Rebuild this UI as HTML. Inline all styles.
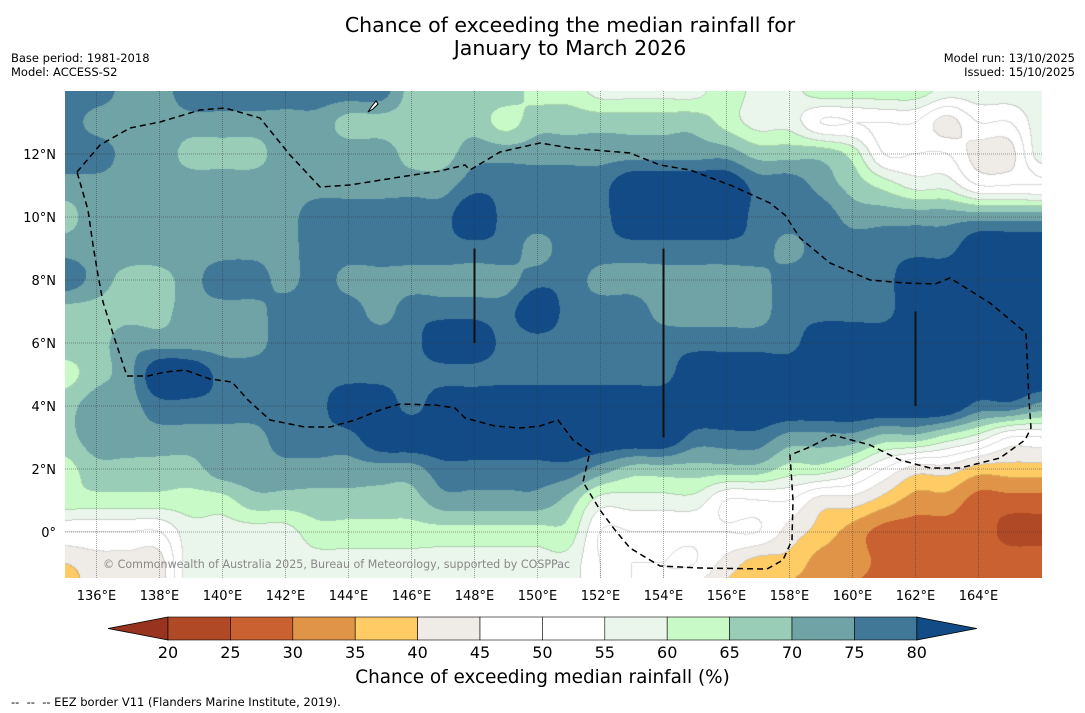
<!DOCTYPE html>
<html><head><meta charset="utf-8">
<style>
body{margin:0;background:#fff;width:1085px;height:713px;overflow:hidden;font-family:"DejaVu Sans","Liberation Sans",sans-serif;}
#wrap{position:relative;width:1085px;height:713px;}
.t{position:absolute;white-space:nowrap;color:#000;}
</style></head>
<body><div id="wrap">
<div class="t" style="left:0;width:1140px;top:14px;text-align:center;font-size:20.5px;line-height:23px;">Chance of exceeding the median rainfall for<br>January to March 2026</div>
<div class="t" style="left:11px;top:51px;font-size:11.5px;line-height:14px;">Base period: 1981-2018<br>Model: ACCESS-S2</div>
<div class="t" style="right:10px;top:51px;font-size:11.5px;line-height:14px;text-align:right;">Model run: 13/10/2025<br>Issued: 15/10/2025</div>
<canvas id="map" width="977" height="487" style="position:absolute;left:65px;top:91px;"></canvas>
<svg id="ov" width="1085" height="713" style="position:absolute;left:0;top:0;"></svg>
<div class="t" style="left:103px;top:558px;font-size:11.1px;color:#888;">© Commonwealth of Australia 2025, Bureau of Meteorology, supported by COSPPac</div>
<div class="t" style="left:0;width:1085px;top:667px;text-align:center;font-size:18.4px;">Chance of exceeding median rainfall (%)</div>
<div class="t" style="left:11px;top:695px;font-size:11.5px;">-- &nbsp;-- &nbsp;-- EEZ border V11 (Flanders Marine Institute, 2019).</div>
</div>
<script>
// 1-degree grid, lon 135..166, lat 14..-2 (% chance of exceeding median)
const lons=[135,136,137,138,139,140,141,142,143,144,145,146,147,148,149,150,151,152,153,154,155,156,157,158,159,160,161,162,163,164,165,166];
const lats=[14,13,12,11,10,9,8,7,6,5,4,3,2,1,0,-1,-2];
const r14=[78,78,73,73,78,78,78,78,78,78,78,68,68,68,68,63,63,58,58,58,58,63,58,58,63,63,63,63,58,58,58,58];
const r13=[78,73,73,73,73,73,73,73,73,68,68,68,68,68,63,68,68,68,68,68,68,63,58,58,50,50,50,50,43,50,50,58];
const r12=[78,78,73,73,68,68,68,73,73,73,73,68,68,73,73,73,73,73,73,73,73,73,68,68,68,63,50,50,50,43,43,58];
const r11=[73,73,73,73,73,73,73,73,73,73,73,73,73,78,78,78,78,78,85,85,85,85,78,78,73,68,63,58,58,50,50,50];
const r10=[68,73,73,73,73,73,73,73,78,78,78,78,78,85,78,78,78,78,85,85,85,85,78,78,78,73,73,73,73,73,73,73];
const r9 =[73,73,73,73,73,73,73,73,78,78,78,78,78,78,78,73,78,78,78,78,78,78,78,73,78,78,78,78,78,85,85,85];
const r8 =[78,73,68,68,73,78,78,73,78,73,73,73,73,73,73,78,78,73,73,73,73,73,73,78,78,78,78,85,85,85,85,85];
const r7 =[68,68,68,68,73,73,73,78,78,78,73,78,78,78,78,85,78,78,78,73,73,73,73,78,78,78,78,85,85,85,85,85];
const r6 =[68,68,73,73,73,73,73,78,78,78,78,78,85,85,78,78,78,78,78,78,78,78,78,78,85,85,85,85,85,85,85,85];
const r5 =[63,68,73,85,85,78,78,78,78,78,78,78,78,78,78,78,78,78,78,78,85,85,85,85,85,85,85,85,85,85,85,85];
const r4 =[68,73,73,78,78,78,78,78,78,85,85,78,85,85,85,85,85,85,85,85,85,85,85,85,85,85,85,85,85,78,78,73];
const r3 =[68,73,73,73,73,73,73,78,78,78,85,85,85,85,85,85,85,85,85,85,78,78,78,73,73,73,68,68,63,58,50,50];
const r2 =[63,68,68,68,68,73,73,73,73,73,73,73,78,78,78,78,78,73,68,68,68,68,68,63,63,58,50,43,43,38,38,38];
const r1 =[63,63,63,63,63,63,68,68,68,68,68,68,73,73,73,73,68,58,58,58,58,50,50,50,43,43,38,33,33,28,28,28];
const r0 =[50,50,50,50,58,58,58,58,63,63,63,63,63,63,63,63,63,50,50,50,50,50,50,43,38,33,28,28,28,28,23,23];
const rm1=[40,43,43,43,58,58,58,58,58,58,58,58,58,58,58,58,58,50,50,50,50,43,38,38,33,33,28,28,28,28,28,28];
const rm2=[36,43,43,43,58,58,58,58,58,58,58,58,58,58,58,58,58,50,50,50,43,38,38,33,33,28,28,28,28,28,23,23];
const rows=[r14,r13,r12,r11,r10,r9,r8,r7,r6,r5,r4,r3,r2,r1,r0,rm1,rm2];
const levels=[20,25,30,35,40,45,50,55,60,65,70,75,80];
const colors=["#98331f","#b04a26","#c96131","#e09448","#fecb65","#efebe6","#ffffff","#ffffff","#eaf5eb","#c8fac8","#9acdb8","#6fa3a6","#417898","#124b85"];
const xTicks=[136,138,140,142,144,146,148,150,152,154,156,158,160,162,164];
const yTicks=[12,10,8,6,4,2,0];

const PX=31.5, X0=65, Y0=91, LON0=135, LAT0=14;
const xs=lon=>X0+(lon-LON0)*PX, ys=lat=>Y0+(LAT0-lat)*PX;
function bin(v){let i=0;while(i<levels.length&&v>=levels[i])i++;return i;}
function hex(c){return[parseInt(c.substr(1,2),16),parseInt(c.substr(3,2),16),parseInt(c.substr(5,2),16)];}
const rgb=colors.map(hex);
function cr(p0,p1,p2,p3,t){return p1+0.5*t*(p2-p0+t*(2*p0-5*p1+4*p2-p3+t*(3*(p1-p2)+p3-p0)));}
function g(j,i){j=Math.max(0,Math.min(lats.length-1,j));i=Math.max(0,Math.min(lons.length-1,i));return rows[j][i];}
(function(){
 const cv=document.getElementById('map'),ctx=cv.getContext('2d');
 const W=cv.width,H=cv.height,img=ctx.createImageData(W,H);
 const B=new Int8Array(W*H);
 for(let py=0;py<H;py++){
  const fy=(py+0.5)/PX; const j=Math.floor(fy), ty=fy-j;
  for(let px=0;px<W;px++){
   const fx=(px+0.5)/PX; const i=Math.floor(fx), tx=fx-i;
   const c=[];
   for(let k=-1;k<=2;k++)c.push(cr(g(j+k,i-1),g(j+k,i),g(j+k,i+1),g(j+k,i+2),tx));
   const v=cr(c[0],c[1],c[2],c[3],ty);
   B[py*W+px]=bin(v);
  }
 }
 for(let p=0;p<W*H;p++){
  const col=rgb[B[p]]; const x=p%W;
  const edge=(x<W-1&&B[p+1]!==B[p])||(p+W<W*H&&B[p+W]!==B[p]);
  const k=p*4;
  const f=(edge&&B[p]>=4&&B[p]<=9)?0.85:1;
  img.data[k]=col[0]*f;img.data[k+1]=col[1]*f;img.data[k+2]=col[2]*f;img.data[k+3]=255;
 }
 ctx.putImageData(img,0,0);
})();
const NS="http://www.w3.org/2000/svg";
const ov=document.getElementById('ov');
function el(t,a,p){const e=document.createElementNS(NS,t);for(const k in a)e.setAttribute(k,a[k]);(p||ov).appendChild(e);return e;}
xTicks.forEach(v=>{
 const x=xs(v);
 const gl=el('line',{x1:x,x2:x,y1:91,y2:578,stroke:'#333','stroke-width':1,'stroke-dasharray':'1,1',opacity:0.45});
 
 
 const t=el('text',{x:x,y:600,'font-size':13,'text-anchor':'middle','font-family':'DejaVu Sans, sans-serif'});
 t.textContent=v+'°E';
 
 
});
yTicks.forEach(v=>{
 const y=ys(v);
 const gl=el('line',{x1:65,x2:1042,y1:y,y2:y,stroke:'#333','stroke-width':1,'stroke-dasharray':'1,1',opacity:0.45});
 
 
 const t=el('text',{x:56,y:y+5,'font-size':13,'text-anchor':'end','font-family':'DejaVu Sans, sans-serif'});
 t.textContent=v===0?'0°':v+'°N';
 
 
});
const eez=[[77,172],[100,145],[130,128],[160,122],[200,110],[225,108],[260,118],[290,155],[320,187],[350,185],[400,177],[440,171],[465,165],[470,170],[500,152],[540,143],[570,148],[630,153],[660,165],[690,170],[730,185],[770,203],[785,215],[800,238],[830,263],[870,280],[905,283],[935,284],[950,278],[990,303],[1026,333],[1029,400],[1031,428],[1025,440],[1000,458],[960,468],[930,468],[900,460],[870,445],[833,435],[810,447],[790,455],[793,500],[792,540],[783,560],[767,569],[700,568],[660,566],[630,548],[615,530],[600,510],[583,482],[588,460],[590,452],[573,440],[558,420],[540,426],[520,428],[495,426],[465,418],[455,408],[435,405],[400,404],[380,410],[355,420],[330,427],[305,427],[270,420],[248,400],[232,382],[210,379],[185,370],[165,372],[148,376],[127,376],[115,340],[103,302],[98,275],[93,245],[88,210],[77,172]];
const pe=el('path',{d:'M'+eez.map(p=>p.join(',')).join('L'),fill:'none',stroke:'#000','stroke-width':1.5,'stroke-dasharray':'6,4'});


[[148,9,6],[154,9,3],[162,7,4]].forEach(s=>{
 const l=el('line',{x1:xs(s[0]),x2:xs(s[0]),y1:ys(s[1]),y2:ys(s[2]),stroke:'#111','stroke-width':2});
 
 
});
const guam=el('path',{d:'M368,112 L372,106 L376,101 L378,104 L373,109 Z',fill:'#fff',stroke:'#000','stroke-width':1});


const cb0=168,cbw=62.4,cy=617,ch=23;
const tl=el('polygon',{points:`${cb0},${cy} 108,${cy+ch/2} ${cb0},${cy+ch}`,fill:colors[0],stroke:'#000','stroke-width':0.8});


for(let i=0;i<levels.length-1;i++){
 const r=el('rect',{x:cb0+i*cbw,y:cy,width:cbw,height:ch,fill:colors[i+1],stroke:'#000','stroke-width':0.6});
 
 
}
const xe=cb0+(levels.length-1)*cbw;
const tr=el('polygon',{points:`${xe},${cy} ${xe+60},${cy+ch/2} ${xe},${cy+ch}`,fill:colors[colors.length-1],stroke:'#000','stroke-width':0.8});


levels.forEach((v,i)=>{
 const t=el('text',{x:cb0+i*cbw,y:658,'font-size':16,'text-anchor':'middle','font-family':'DejaVu Sans, sans-serif'});
 t.textContent=v;
 
 
});
</script>
</body></html>
